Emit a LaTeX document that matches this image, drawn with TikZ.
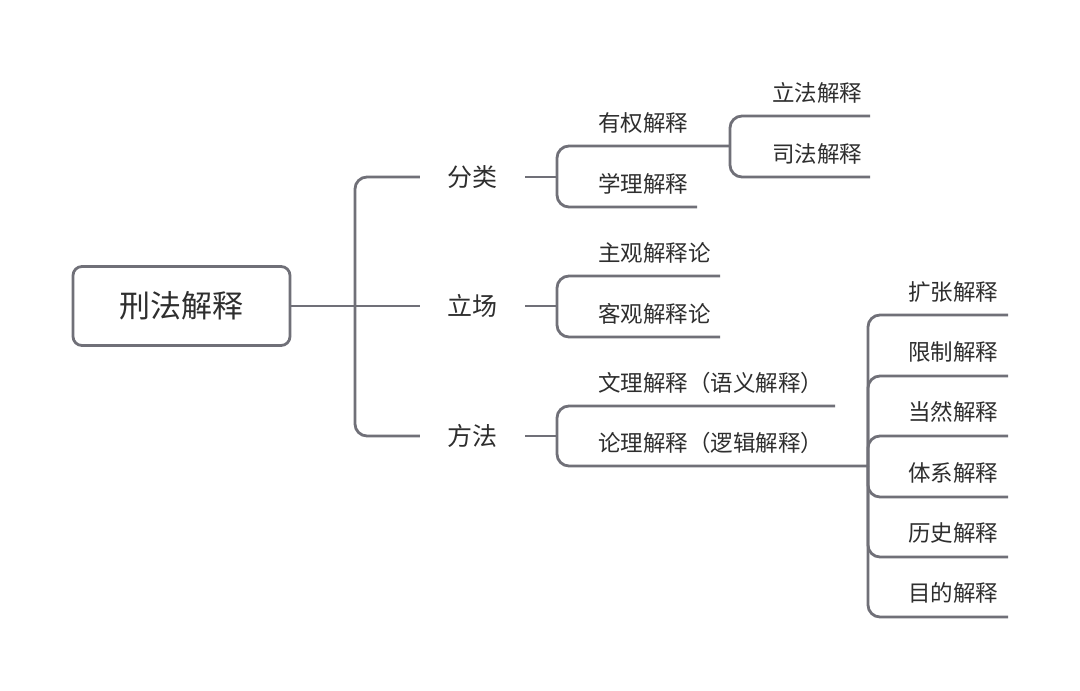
\documentclass[tikz,border=0pt]{standalone}
\usepackage{fontspec}
\newfontfamily\cjk{Noto Sans CJK SC}
\definecolor{lc}{HTML}{707078}
\definecolor{tc}{HTML}{2E2E2E}
\begin{document}
\begin{tikzpicture}[x=1pt,y=-1pt,
  conn/.style={draw=lc, line width=2.8pt, rounded corners=12pt},
  leaf/.style={anchor=west, inner sep=0pt, font=\cjk\fontsize{22.5}{26}\selectfont, text=tc},
  mid/.style={anchor=center, inner sep=0pt, minimum width=105pt, font=\cjk\fontsize{25}{30}\selectfont, text=tc},
  rootbox/.style={draw=lc, line width=2.8pt, rounded corners=9pt, minimum width=217pt, minimum height=79pt, inner sep=0pt, font=\cjk\fontsize{31}{36}\selectfont, text=tc}]
\useasboundingbox[fill=white] (0,0) rectangle (1080,691);

% root
\node[rootbox] (root) at (181.5,306) {刑法解释};

% level 1
\node[mid] (fl) at (472.5,177) {分类};
\node[mid] (lc) at (472.5,306) {立场};
\node[mid] (ff) at (472.5,436) {方法};
\coordinate (jr) at (355,306);
\draw[conn] (root.east) -- (lc.west);
\draw[conn] (fl.west) -| (jr) |- (ff.west);

% 分类 subtree
\coordinate (j1) at (557,177);
\coordinate (yqE) at (730,146);
\coordinate (xlE) at (697,207);
\draw[conn] (fl.east) -- (j1);
\draw[conn] (yqE) -| (j1) |- (xlE);
\node[leaf] (yq) at (598,123) {有权解释};
\node[leaf] (xl) at (598,184) {学理解释};
\coordinate (lfE) at (870,116);
\coordinate (sfE) at (870,177);
\draw[conn] (lfE) -| (yqE) |- (sfE);
\node[leaf] (lf) at (772,93) {立法解释};
\node[leaf] (sf) at (772,154) {司法解释};

% 立场 subtree
\coordinate (j2) at (557,306);
\coordinate (zgE) at (720,276);
\coordinate (kgE) at (720,337);
\draw[conn] (lc.east) -- (j2);
\draw[conn] (zgE) -| (j2) |- (kgE);
\node[leaf] (zg) at (598,253) {主观解释论};
\node[leaf] (kg) at (598,314) {客观解释论};

% 方法 subtree
\coordinate (j3) at (557,436);
\coordinate (wlE) at (835,406);
\coordinate (j4) at (868,466);
\draw[conn] (ff.east) -- (j3);
\draw[conn] (wlE) -| (j3) |- (j4);
\node[leaf] (wl) at (598,383) {文理解释（语义解释）};
\node[leaf] (ll) at (598,443) {论理解释（逻辑解释）};

\coordinate (e1) at (1008,315);
\coordinate (e2) at (1008,376);
\coordinate (e3) at (1008,436);
\coordinate (e4) at (1008,497);
\coordinate (e5) at (1008,557);
\coordinate (e6) at (1008,617);
\foreach \e in {e1,e2,e3,e4,e5,e6} { \draw[conn] (\e) -| (j4); }
\node[leaf] (kz) at (908,292) {扩张解释};
\node[leaf] (xz) at (908,352) {限制解释};
\node[leaf] (dr) at (908,412) {当然解释};
\node[leaf] (tx) at (908,473) {体系解释};
\node[leaf] (ls) at (908,533) {历史解释};
\node[leaf] (md) at (908,593) {目的解释};
\end{tikzpicture}
\end{document}
